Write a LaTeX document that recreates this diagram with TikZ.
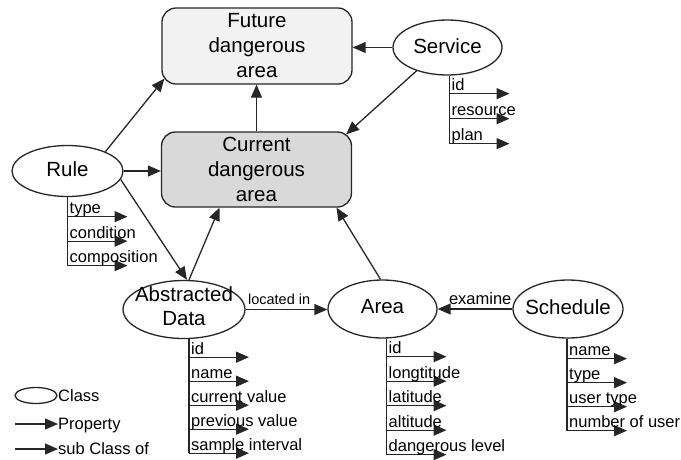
\documentclass[tikz,border=0pt]{standalone}
\usepackage{fontspec}
\setmainfont{Liberation Sans}
\usetikzlibrary{arrows.meta,shapes.geometric}
\definecolor{ink}{HTML}{262626}
\definecolor{futfill}{HTML}{F2F2F2}
\definecolor{curfill}{HTML}{D9D9D9}

% property list under a class: vertical stem and one arrow per property
% #1 node, #2 stem x offset, #3 first row offset, #4 row step, #5 labels
\newcommand\proplist[5]{%
  \coordinate (#1-top) at ([xshift=#2pt]#1.south);
  \foreach \t [count=\i] in {#5} {
    \path (#1-top) ++(0,{#3+(\i-1)*#4}) coordinate (#1-s\i);
    \path (#1-s\i) ++(60,0) coordinate (#1-e\i);
    \draw[stem] (#1-top) -- (#1-s\i);
    \draw[arr] (#1-s\i) -- (#1-e\i);
    \node[small, anchor=base west] (#1-l\i) at ([xshift=2pt,yshift=3pt]#1-s\i) {\t};
  }%
}

\begin{document}
\begin{tikzpicture}[x=1pt,y=-1pt,
  arr/.style={draw=ink, line width=1.3pt, -{Triangle[length=13pt,width=11pt]}},
  stem/.style={draw=ink, line width=1.3pt},
  cls/.style={ellipse, draw=ink, line width=1.3pt, fill=white, inner sep=0pt},
  areabox/.style={rectangle, rounded corners=14pt, draw=ink, line width=1.3pt,
    inner sep=0pt, minimum width=190pt, minimum height=76pt,
    font=\fontsize{20.5}{25}\selectfont, align=center},
  big/.style={font=\fontsize{20.5}{24}\selectfont, align=center, inner sep=0pt},
  small/.style={font=\fontsize{16.5}{19}\selectfont, inner sep=0pt},
]
\useasboundingbox (0,0) rectangle (681,459);

% dangerous area boxes
\node[areabox, fill=futfill] (fut) at (257,46) {Future\\dangerous\\area};
\node[areabox, fill=curfill, minimum height=75pt] (cur) at (256.5,169.5) {Current\\dangerous\\area};

% classes
\node[cls, minimum width=109pt, minimum height=55pt] (srv) at (447.5,47.5) {};
\node[big] (srv-t) at ([yshift=1pt]srv.center) {Service};
\node[cls, minimum width=111pt, minimum height=51pt] (rule) at (67.5,171) {};
\node[big] (rule-t) at ([yshift=2pt]rule.center) {Rule};
\node[cls, minimum width=122pt, minimum height=58pt] (ad) at (184,309.5) {};
\node[big] (ad-t) at ([yshift=3pt]ad.center) {Abstracted\\Data};
\node[cls, minimum width=109pt, minimum height=58pt] (area) at (382.5,309) {};
\node[big] (area-t) at ([yshift=2pt]area.center) {Area};
\node[cls, minimum width=110pt, minimum height=58pt] (sch) at (568,309) {};
\node[big] (sch-t) at ([yshift=2pt]sch.center) {Schedule};

% relations
\draw[arr] (srv.west) -- (srv.west -| fut.east);
\draw[arr] (srv.217) -- ([xshift=-6pt,yshift=-3pt]cur.north east);
\draw[arr] (cur.north) -- (cur.north |- fut.south);
\draw[arr] (rule.27) -- ([xshift=3pt,yshift=6pt]fut.south west);
\draw[arr] (rule.east) -- (rule.east -| cur.west);
\draw[arr] (rule.-9) -- ([xshift=3pt]ad.north);
\draw[arr] ([xshift=5pt]ad.north) -- ([xshift=-37pt]cur.south);
\draw[arr] ([xshift=-2pt]area.north) -- ([xshift=80pt]cur.south);
\draw[arr] (ad.east) -- node[small, font=\fontsize{14.5}{17}\selectfont, anchor=base, pos=0.41, yshift=5pt] (lin) {located in} (ad.east -| area.west);
\draw[arr] (sch.west) -- node[small, anchor=base, pos=0.43, yshift=5pt] (exa) {examine} (sch.west -| area.east);

% properties
\proplist{srv}{2}{18}{25}{id,resource,plan}
\proplist{rule}{0}{19.5}{24.5}{type,condition,composition}
\proplist{ad}{5}{18}{24}{id,name,current value,previous value,sample interval}
\proplist{area}{4}{18}{24.5}{id,longtitude,latitude,altitude,dangerous level}
\proplist{sch}{-1}{20}{24}{name,type,user type,number of user}

% legend
\node[cls, minimum width=42pt, minimum height=16pt] (lc) at (36,395.5) {};
\node[small, anchor=base west] (lc-t) at (58,401) {Class};
\coordinate (lp0) at (15,424);
\node[small, anchor=base west] (lp-t) at (58,429.5) {Property};
\draw[arr] (lp0) -- (lp0 -| lp-t.west);
\coordinate (ls0) at (15,449);
\node[small, anchor=base west] (ls-t) at (58,454.5) {sub Class of};
\draw[arr] (ls0) -- (ls0 -| ls-t.west);
\end{tikzpicture}
\end{document}
